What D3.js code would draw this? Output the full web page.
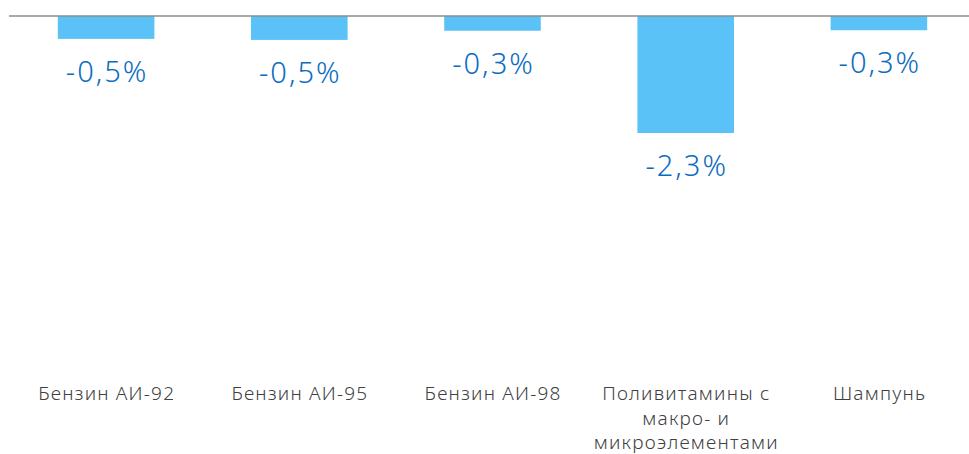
<!DOCTYPE html>
<html>
<head>
<meta charset="utf-8">
<script src="https://cdn.jsdelivr.net/npm/d3@7"></script>
<style>
  body { margin: 0; background: #fff; }
  text { font-family: "Noto Sans", sans-serif; }
</style>
</head>
<body>
<div id="chart"></div>
<script>
const categories = ["Бензин АИ-92", "Бензин АИ-95", "Бензин АИ-98", "Поливитамины с\nмакро- и\nмикроэлементами", "Шампунь"];
const values = [-0.45, -0.47, -0.29, -2.3, -0.28];

const width = 969, height = 454;
const baseY = 16;

const svg = d3.select("#chart")
  .append("svg")
  .attr("width", width)
  .attr("height", height);

const x = d3.scaleBand()
  .domain(categories)
  .range([9.5, 975.5])
  .paddingInner(0.5)
  .paddingOuter(0.25);

const y = d3.scaleLinear()
  .domain([0, -2.3])
  .range([baseY, 133]);

const fmt = v => d3.format(".1f")(v).replace(".", ",").replace("−", "-") + "%";

svg.selectAll("rect.bar")
  .data(values)
  .enter()
  .append("rect")
  .attr("class", "bar")
  .attr("x", (d, i) => x(categories[i]))
  .attr("y", y(0))
  .attr("width", x.bandwidth())
  .attr("height", d => y(d) - y(0))
  .attr("fill", "#5BC2F7");

// baseline
svg.append("line")
  .attr("x1", 9)
  .attr("x2", width)
  .attr("y1", y(0))
  .attr("y2", y(0))
  .attr("stroke", "#8c8c8c")
  .attr("stroke-width", 1.5);

// value labels
svg.selectAll("text.val")
  .data(values)
  .enter()
  .append("text")
  .attr("class", "val")
  .attr("x", (d, i) => x(categories[i]) + x.bandwidth() / 2 + 1)
  .attr("y", d => y(d) + 43)
  .attr("text-anchor", "middle")
  .attr("font-size", "29px")
  .attr("font-weight", 300)
  .attr("letter-spacing", "2px")
  .attr("fill", "#0B6DC0")
  .text(d => fmt(d));

// category labels
const cat = svg.selectAll("text.cat")
  .data(categories)
  .enter()
  .append("text")
  .attr("class", "cat")
  .attr("x", d => x(d) + x.bandwidth() / 2 + 0.6)
  .attr("y", 400)
  .attr("text-anchor", "middle")
  .attr("font-size", "19px")
  .attr("font-weight", 300)
  .attr("letter-spacing", "1.2px")
  .attr("fill", "#404040");

cat.selectAll("tspan")
  .data(d => d.split("\n"))
  .enter()
  .append("tspan")
  .attr("x", function() { return d3.select(this.parentNode).attr("x"); })
  .attr("dy", (d, i) => i ? 24.5 : 0)
  .text(d => d);
</script>
</body>
</html>
